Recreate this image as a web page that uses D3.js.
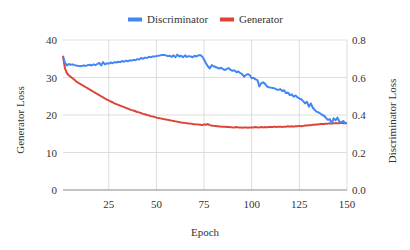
<!DOCTYPE html>
<html>
<head>
<meta charset="utf-8">
<script src="https://cdn.jsdelivr.net/npm/d3@7"></script>
<style>
  body { margin: 0; background: #fff; }
  svg { display: block; }
</style>
</head>
<body>
<div id="chart"></div>
<script>
const epochTicks = [25, 50, 75, 100, 125, 150];
const genTicks = [0, 10, 20, 30, 40];
const discTicks = [0, 0.2, 0.4, 0.6, 0.8];

// epochs 1..150
const discriminatorLoss = [
  0.710, 0.680, 0.664, 0.672, 0.668, 0.670, 0.666, 0.664, 0.662, 0.660,
  0.662, 0.664, 0.662, 0.666, 0.668, 0.664, 0.670, 0.666, 0.672, 0.678,
  0.664, 0.682, 0.670, 0.676, 0.674, 0.680, 0.676, 0.682, 0.680, 0.684,
  0.682, 0.688, 0.684, 0.690, 0.686, 0.692, 0.690, 0.694, 0.692, 0.698,
  0.696, 0.704, 0.700, 0.706, 0.704, 0.710, 0.708, 0.712, 0.712, 0.714,
  0.716, 0.718, 0.720, 0.720, 0.718, 0.714, 0.716, 0.710, 0.718, 0.708,
  0.722, 0.712, 0.716, 0.708, 0.718, 0.710, 0.714, 0.712, 0.708, 0.716,
  0.712, 0.718, 0.720, 0.712, 0.696, 0.676, 0.660, 0.648, 0.666, 0.660,
  0.656, 0.652, 0.648, 0.652, 0.644, 0.640, 0.646, 0.650, 0.640, 0.636,
  0.638, 0.628, 0.632, 0.624, 0.618, 0.604, 0.614, 0.618, 0.612, 0.596,
  0.598, 0.590, 0.586, 0.552, 0.570, 0.574, 0.566, 0.552, 0.548, 0.546,
  0.544, 0.542, 0.536, 0.534, 0.538, 0.528, 0.532, 0.516, 0.520, 0.506,
  0.510, 0.498, 0.504, 0.494, 0.488, 0.484, 0.474, 0.462, 0.470, 0.444,
  0.462, 0.440, 0.428, 0.418, 0.414, 0.408, 0.400, 0.396, 0.384, 0.374,
  0.378, 0.356, 0.382, 0.372, 0.386, 0.364, 0.360, 0.368, 0.358, 0.356
];

const generatorLoss = [
  35.8, 32.5, 31.2, 30.6, 30.2, 29.8, 29.4, 28.9, 28.6, 28.3,
  28.0, 27.7, 27.4, 27.1, 26.8, 26.5, 26.2, 25.9, 25.6, 25.3,
  25.0, 24.7, 24.4, 24.1, 23.9, 23.6, 23.4, 23.1, 22.9, 22.7,
  22.5, 22.3, 22.1, 21.9, 21.7, 21.5, 21.3, 21.2, 21.0, 20.8,
  20.7, 20.5, 20.3, 20.2, 20.0, 19.9, 19.7, 19.6, 19.5, 19.3,
  19.2, 19.1, 19.0, 18.9, 18.8, 18.7, 18.6, 18.5, 18.4, 18.3,
  18.2, 18.1, 18.0, 17.95, 17.9, 17.8, 17.75, 17.7, 17.6, 17.55,
  17.5, 17.45, 17.4, 17.3, 17.5, 17.4, 17.6, 17.3, 17.2, 17.1,
  17.05, 17.0, 16.95, 16.9, 16.9, 16.85, 16.8, 16.8, 16.75, 16.7,
  16.7, 16.8, 16.7, 16.7, 16.6, 16.7, 16.7, 16.6, 16.7, 16.7,
  16.7, 16.8, 16.7, 16.7, 16.8, 16.7, 16.8, 16.7, 16.8, 16.8,
  16.8, 16.9, 16.8, 16.9, 16.9, 16.8, 16.9, 16.9, 17.0, 16.9,
  17.0, 16.9, 17.0, 17.0, 17.1, 17.0, 17.1, 17.2, 17.2, 17.3,
  17.3, 17.4, 17.4, 17.5, 17.5, 17.6, 17.6, 17.6, 17.7, 17.7,
  17.8, 17.7, 17.8, 17.8, 17.8, 17.8, 17.9, 17.8, 17.8, 17.8
];

const seriesNames = ['Discriminator', 'Generator'];
const seriesColors = ['#4285f4', '#db4437'];

const width = 410;
const height = 250;
const margin = { top: 40, right: 63, bottom: 60, left: 63 };

const svg = d3.select('#chart').append('svg')
  .attr('width', width)
  .attr('height', height);

const x = d3.scaleLinear()
  .domain([1, 150])
  .range([margin.left, width - margin.right]);

const yGen = d3.scaleLinear()
  .domain([0, 40])
  .range([height - margin.bottom, margin.top]);

const yDisc = d3.scaleLinear()
  .domain([0, 0.8])
  .range([height - margin.bottom, margin.top]);

// gridlines
svg.append('g')
  .selectAll('line')
  .data(genTicks.filter(d => d > 0))
  .join('line')
  .attr('x1', margin.left)
  .attr('x2', width - margin.right)
  .attr('y1', d => yGen(d))
  .attr('y2', d => yGen(d))
  .attr('stroke', '#dddddd')
  .attr('stroke-width', 1);

svg.append('g')
  .selectAll('line')
  .data(epochTicks)
  .join('line')
  .attr('x1', d => x(d))
  .attr('x2', d => x(d))
  .attr('y1', margin.top)
  .attr('y2', height - margin.bottom)
  .attr('stroke', '#dddddd')
  .attr('stroke-width', 1);

// baseline
svg.append('line')
  .attr('x1', margin.left)
  .attr('x2', width - margin.right)
  .attr('y1', yGen(0))
  .attr('y2', yGen(0))
  .attr('stroke', '#888888')
  .attr('stroke-width', 1);

// axes labels
const tickStyle = sel => sel
  .attr('font-family', 'Liberation Serif')
  .attr('font-size', 11)
  .attr('fill', '#333');

svg.append('g')
  .selectAll('text')
  .data(epochTicks)
  .join('text')
  .text(d => d)
  .attr('x', d => x(d))
  .attr('y', height - margin.bottom + 18)
  .attr('text-anchor', 'middle')
  .call(tickStyle);

svg.append('g')
  .selectAll('text')
  .data(genTicks)
  .join('text')
  .text(d => d)
  .attr('x', margin.left - 6)
  .attr('y', d => yGen(d) + 4)
  .attr('text-anchor', 'end')
  .call(tickStyle);

svg.append('g')
  .selectAll('text')
  .data(discTicks)
  .join('text')
  .text(d => d3.format('.1f')(d))
  .attr('x', width - margin.right + 5)
  .attr('y', d => yDisc(d) + 4)
  .attr('text-anchor', 'start')
  .call(tickStyle);

svg.append('text')
  .text('Epoch')
  .attr('x', (margin.left + width - margin.right) / 2)
  .attr('y', 236)
  .attr('text-anchor', 'middle')
  .call(tickStyle);

svg.append('text')
  .text('Generator Loss')
  .attr('transform', 'translate(24, 120) rotate(-90)')
  .attr('text-anchor', 'middle')
  .call(tickStyle);

svg.append('text')
  .text('Discriminator Loss')
  .attr('transform', 'translate(396, 121) rotate(-90)')
  .attr('text-anchor', 'middle')
  .call(tickStyle);

// lines
const discLine = d3.line()
  .x((d, i) => x(i + 1))
  .y(d => yDisc(d));

const genLine = d3.line()
  .x((d, i) => x(i + 1))
  .y(d => yGen(d));

svg.append('path')
  .datum(generatorLoss)
  .attr('d', genLine)
  .attr('fill', 'none')
  .attr('stroke', seriesColors[1])
  .attr('stroke-width', 2)
  .attr('stroke-linejoin', 'round');

svg.append('path')
  .datum(discriminatorLoss)
  .attr('d', discLine)
  .attr('fill', 'none')
  .attr('stroke', seriesColors[0])
  .attr('stroke-width', 2)
  .attr('stroke-linejoin', 'round');

// legend
const legendX = [128, 220];
const legend = svg.append('g')
  .selectAll('g')
  .data(seriesNames)
  .join('g')
  .attr('transform', (d, i) => `translate(${legendX[i]}, 0)`);

legend.append('rect')
  .attr('x', 0)
  .attr('y', 17.5)
  .attr('width', 14)
  .attr('height', 4)
  .attr('fill', (d, i) => seriesColors[i]);

legend.append('text')
  .text(d => d)
  .attr('x', 19)
  .attr('y', 23)
  .call(tickStyle);
</script>
</body>
</html>
